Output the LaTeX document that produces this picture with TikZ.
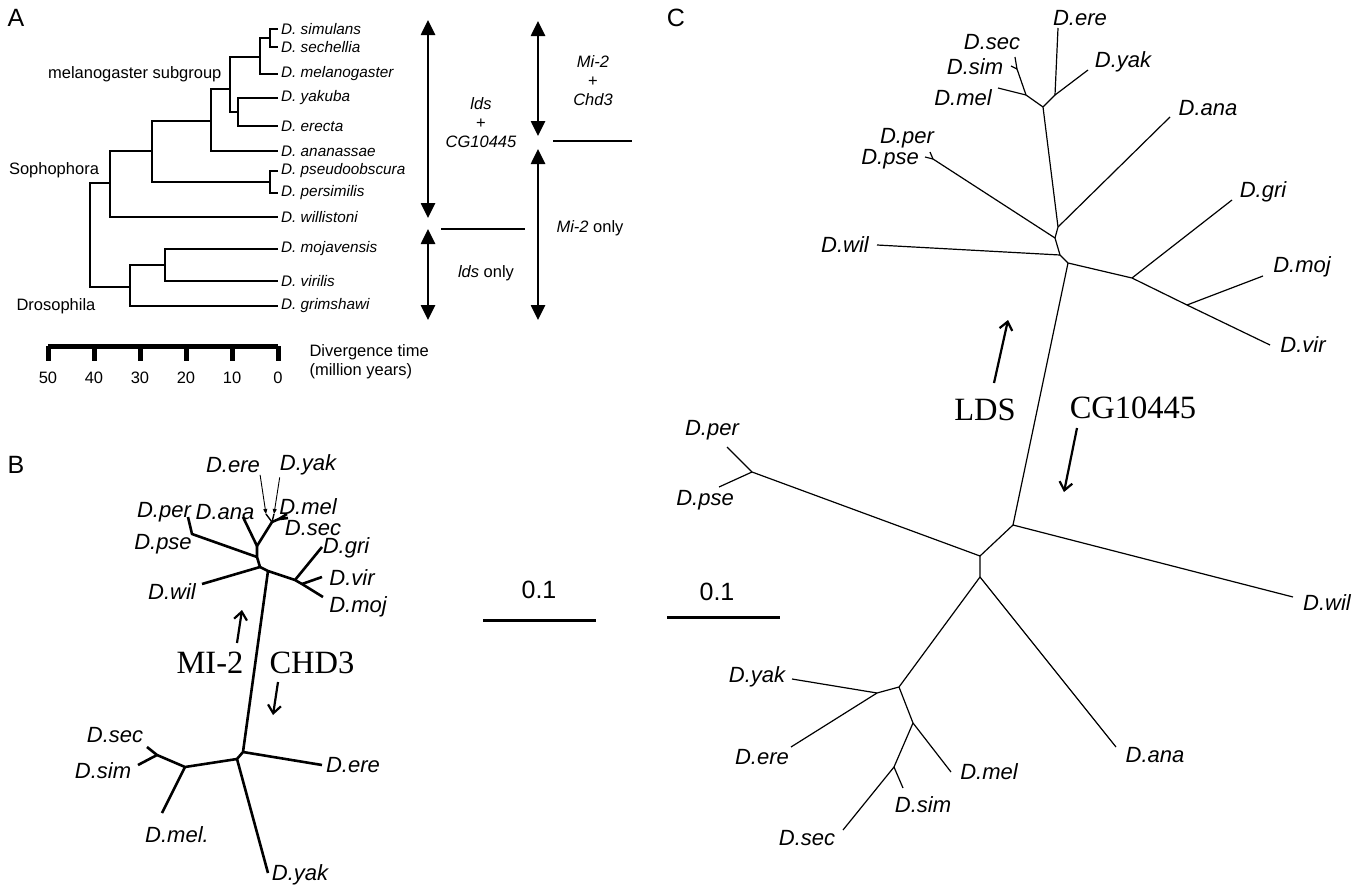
\documentclass[tikz,border=0pt]{standalone}
\usepackage{fontspec}
\setmainfont{Liberation Sans}
\newfontfamily\romanlbl{Liberation Serif}
\usetikzlibrary{arrows.meta}

\begin{document}
\begin{tikzpicture}[x=1pt, y=-1pt,
  panel/.style={font=\fontsize{25}{28}\selectfont},
  taxon/.style={font=\fontsize{15.3}{18}\selectfont\itshape, anchor=west, inner sep=3pt},
  clade/.style={font=\fontsize{16.5}{19}\selectfont},
  gene/.style={font=\fontsize{16.5}{19}\selectfont, align=center},
  sp/.style={font=\fontsize{22}{26}\selectfont\itshape, inner sep=0pt},
  big/.style={font=\fontsize{32.5}{36}\selectfont\romanlbl},
  bar/.style={font=\fontsize{25}{28}\selectfont},
  treeA/.style={line width=2.8pt, line join=miter},
  treeB/.style={line width=2.6pt, line join=round},
  treeC/.style={line width=1.2pt, line join=round},
  span/.style={line width=2.6pt, {Triangle[width=14pt,length=15pt]}-{Triangle[width=14pt,length=15pt]}},
  pointer/.style={line width=2.2pt, -{Straight Barb[length=8pt,width=13pt]}},
  tiny/.style={line width=0.9pt, -{Triangle[width=4pt,length=5pt]}}]

  \useasboundingbox (0,0) rectangle (1355,886);

  % panel letters
  \node[panel] (pA) at (16,18) {A};
  \node[panel] (pB) at (16,465) {B};
  \node[panel] (pC) at (676,18) {C};

  % ---- A: dated tree
  \node[taxon] (t-sim) at (278,29) {D. simulans};
  \node[taxon] (t-sec) at (278,47) {D. sechellia};
  \node[taxon] (t-mel) at (278,74) {D. melanogaster};
  \node[taxon] (t-yak) at (278,98) {D. yakuba};
  \node[taxon] (t-ere) at (278,126) {D. erecta};
  \node[taxon] (t-ana) at (278,151) {D. ananassae};
  \node[taxon] (t-pse) at (278,171) {D. pseudoobscura};
  \node[taxon] (t-per) at (278,193) {D. persimilis};
  \node[taxon] (t-wil) at (278,217) {D. willistoni};
  \node[taxon] (t-moj) at (278,249) {D. mojavensis};
  \node[taxon] (t-vir) at (278,281) {D. virilis};
  \node[taxon] (t-gri) at (278,306) {D. grimshawi};

  \coordinate (a1) at (270,38);
  \coordinate (a2) at (260,57);
  \coordinate (a3) at (238,112);
  \coordinate (a4) at (230,89);
  \coordinate (a5) at (211,121);
  \coordinate (a6) at (270,182);
  \coordinate (a7) at (152,151);
  \coordinate (a8) at (110,183);
  \coordinate (a9) at (165,265);
  \coordinate (a10) at (130,287);
  \coordinate (a11) at (90,235);

  \draw[treeA] (t-sim.west) -| (a1) |- (t-sec.west);
  \draw[treeA] (a1) -| (a2) |- (t-mel.west);
  \draw[treeA] (t-yak.west) -| (a3) |- (t-ere.west);
  \draw[treeA] (a2) -| (a4) |- (a3);
  \draw[treeA] (a4) -| (a5) |- (t-ana.west);
  \draw[treeA] (t-pse.west) -| (a6) |- (t-per.west);
  \draw[treeA] (a5) -| (a7) |- (a6);
  \draw[treeA] (a7) -| (a8) |- (t-wil.west);
  \draw[treeA] (t-moj.west) -| (a9) |- (t-vir.west);
  \draw[treeA] (a9) -| (a10) |- (t-gri.west);
  \draw[treeA] (a8) -| (a11) |- (a10);

  \node[clade, anchor=east] (melsub) at (225,74) {melanogaster subgroup};
  \node[clade] (soph) at (54,170) {Sophophora};
  \node[clade] (dros) at (56,306) {Drosophila};

  % time axis
  \coordinate (ax-l) at (48,346);
  \coordinate (ax-r) at (278,346);
  \draw[line width=5pt] (ax-l) -- (ax-r);
  \foreach \i/\v in {0/50,1/40,2/30,3/20,4/10,5/0} {
    \coordinate (tk\i) at (48+46*\i,346);
    \draw[line width=5pt] (tk\i) -- ++(0,15);
    \node[clade] (tl\i) at (48+46*\i,378) {\v};
  }
  \node[clade, anchor=west, align=left] (axname) at (306,362) {Divergence time\\(million years)};

  % gene ranges
  \coordinate (r1t) at (428,20);
  \coordinate (r1b) at (428,218);
  \coordinate (r2t) at (428,229);
  \coordinate (r2b) at (428,320);
  \coordinate (r3t) at (538,21);
  \coordinate (r3b) at (538,136);
  \coordinate (r4t) at (538,149);
  \coordinate (r4b) at (538,320);
  \draw[span] (r1t) -- (r1b);
  \draw[span] (r2t) -- (r2b);
  \draw[span] (r3t) -- (r3b);
  \draw[span] (r4t) -- (r4b);
  \coordinate (cut1a) at (441,229);
  \coordinate (cut1b) at (525,229);
  \coordinate (cut2a) at (553,141);
  \coordinate (cut2b) at (632,141);
  \draw[line width=2.6pt] (cut1a) -- (cut1b);
  \draw[line width=2.6pt] (cut2a) -- (cut2b);

  \node[gene] (g-lds) at (481,123) {\textit{lds}\\+\\\textit{CG10445}};
  \node[gene] (g-mi) at (593,81) {\textit{Mi-2}\\+\\\textit{Chd3}};
  \node[gene] (g-mionly) at (590,228) {\textit{Mi-2} only};
  \node[gene] (g-ldsonly) at (486,273) {\textit{lds} only};

  % ---- B: Mi-2 / Chd3 tree
  \coordinate (b-per) at (188,517);
  \coordinate (b-pp) at (192,534);
  \coordinate (b-ana) at (243,517);
  \coordinate (b-n1) at (257,546);
  \coordinate (b-mc) at (272,522);
  \coordinate (b-ms) at (279,519);
  \coordinate (b-mel) at (287,514);
  \coordinate (b-sec) at (288,518);
  \coordinate (b-ere) at (266,514);
  \coordinate (b-yak) at (274,514);
  \coordinate (b-n2) at (257,557);
  \coordinate (b-n3) at (260,567);
  \coordinate (b-wil) at (202,584);
  \coordinate (b-st) at (268,571);
  \coordinate (b-gj) at (295,580);
  \coordinate (b-gri) at (322,547);
  \coordinate (b-vj) at (302,584);
  \coordinate (b-vir) at (322,577);
  \coordinate (b-moj) at (323,597);
  \coordinate (b-r1) at (243,752);
  \coordinate (b-r2) at (237,759);
  \coordinate (b-ere2) at (322,765);
  \coordinate (b-yak2) at (268,873);
  \coordinate (b-mg) at (185,767);
  \coordinate (b-mel2) at (162,813);
  \coordinate (b-ss) at (157,755);
  \coordinate (b-sec2) at (147,747);
  \coordinate (b-sim2) at (138,765);

  \draw[treeB] (b-per) -- (b-pp) -- (b-n2);
  \draw[treeB] (b-ana) -- (b-n1) -- (b-mc) -- (b-ms) -- (b-mel);
  \draw[treeB] (b-ms) -- (b-sec);
  \draw[line width=1.4pt] (b-mc) -- (b-ere);
  \draw[line width=1.4pt] (b-mc) -- (b-yak);
  \draw[treeB] (b-n1) -- (b-n2) -- (b-n3) -- (b-wil);
  \draw[treeB] (b-n3) -- (b-st) -- (b-gj) -- (b-vj) -- (b-moj);
  \draw[treeB] (b-gj) -- (b-gri);
  \draw[treeB] (b-vj) -- (b-vir);
  \draw[treeB] (b-st) -- (b-r1) -- (b-r2) -- (b-yak2);
  \draw[treeB] (b-r1) -- (b-ere2);
  \draw[treeB] (b-r2) -- (b-mg) -- (b-ss) -- (b-sec2);
  \draw[treeB] (b-mg) -- (b-mel2);
  \draw[treeB] (b-ss) -- (b-sim2);

  \node[sp] (bl-ere) at (233,465) {D.ere};
  \node[sp] (bl-yak) at (308,465) {D.yak};
  \node[sp] (bl-per) at (164,512) {D.per};
  \node[sp] (bl-ana) at (225,512) {D.ana};
  \node[sp] (bl-mel) at (308,507) {D.mel};
  \node[sp] (bl-sec) at (313,528) {D.sec};
  \node[sp] (bl-pse) at (163,544) {D.pse};
  \node[sp] (bl-gri) at (346,548) {D.gri};
  \node[sp] (bl-vir) at (352,578) {D.vir};
  \node[sp] (bl-moj) at (358,607) {D.moj};
  \node[sp] (bl-wil) at (172,592) {D.wil};
  \node[sp] (bl-sec2) at (115,735) {D.sec};
  \node[sp] (bl-sim2) at (103,771) {D.sim};
  \node[sp] (bl-mel2) at (177,835) {D.mel.};
  \node[sp] (bl-yak2) at (300,875) {D.yak};
  \node[sp] (bl-ere2) at (353,765) {D.ere};

  \draw[tiny] ([yshift=-2pt]bl-ere.south east) -- (b-ere);
  \draw[tiny] ([yshift=-2pt]bl-yak.south west) -- (b-yak);

  \node[big] (mi2) at (210,663) {MI-2};
  \node[big] (chd3) at (312,663) {CHD3};
  \coordinate (mi2-a) at (237,643);
  \coordinate (mi2-b) at (242,610);
  \coordinate (chd3-a) at (278,682);
  \coordinate (chd3-b) at (273,715);
  \draw[pointer] (mi2-a) -- (mi2-b);
  \draw[pointer] (chd3-a) -- (chd3-b);

  % scale bars
  \coordinate (sb1-l) at (483,620);
  \coordinate (sb1-r) at (596,620);
  \coordinate (sb2-l) at (667,617);
  \coordinate (sb2-r) at (780,617);
  \draw[line width=3pt] (sb1-l) -- (sb1-r);
  \draw[line width=3pt] (sb2-l) -- (sb2-r);
  \node[bar] (sb1) at (539,590) {0.1};
  \node[bar] (sb2) at (717,592) {0.1};

  % ---- C: lds / CG10445 tree
  \coordinate (c-ere) at (1058,28);
  \coordinate (c-ey) at (1055,95);
  \coordinate (c-yak) at (1088,70);
  \coordinate (c-n) at (1043,107);
  \coordinate (c-mn) at (1026,95);
  \coordinate (c-mel) at (998,88);
  \coordinate (c-ss) at (1017,69);
  \coordinate (c-sec) at (1015,57);
  \coordinate (c-sim) at (1011,66);
  \coordinate (c-aj) at (1058,227);
  \coordinate (c-ana) at (1170,117);
  \coordinate (c-pj) at (1055,238);
  \coordinate (c-pp) at (933,159);
  \coordinate (c-per) at (930,152);
  \coordinate (c-pse) at (925,157);
  \coordinate (c-wj) at (1060,255);
  \coordinate (c-wil) at (877,245);
  \coordinate (c-s) at (1068,263);
  \coordinate (c-g) at (1132,278);
  \coordinate (c-gri) at (1232,200);
  \coordinate (c-mv) at (1187,305);
  \coordinate (c-moj) at (1263,276);
  \coordinate (c-vir) at (1270,345);
  \coordinate (c-l) at (1013,525);
  \coordinate (c-wil2) at (1293,597);
  \coordinate (c-pn) at (980,556);
  \coordinate (c-pp2) at (752,472);
  \coordinate (c-per2) at (727,447);
  \coordinate (c-pse2) at (719,487);
  \coordinate (c-q) at (980,577);
  \coordinate (c-ana2) at (1116,747);
  \coordinate (c-m) at (899,687);
  \coordinate (c-ye) at (877,693);
  \coordinate (c-yak2) at (792,679);
  \coordinate (c-ere2) at (791,747);
  \coordinate (c-mm) at (913,723);
  \coordinate (c-mel2) at (951,772);
  \coordinate (c-ss2) at (894,767);
  \coordinate (c-sim2) at (903,788);
  \coordinate (c-sec2) at (843,830);

  \draw[treeC] (c-ere) -- (c-ey) -- (c-n);
  \draw[treeC] (c-ey) -- (c-yak);
  \draw[treeC] (c-n) -- (c-mn) -- (c-ss) -- (c-sec);
  \draw[treeC] (c-mn) -- (c-mel);
  \draw[treeC] (c-ss) -- (c-sim);
  \draw[treeC] (c-n) -- (c-aj) -- (c-pj) -- (c-wj) -- (c-s) -- (c-g) -- (c-mv) -- (c-vir);
  \draw[treeC] (c-aj) -- (c-ana);
  \draw[treeC] (c-pj) -- (c-pp) -- (c-per);
  \draw[treeC] (c-pp) -- (c-pse);
  \draw[treeC] (c-wj) -- (c-wil);
  \draw[treeC] (c-g) -- (c-gri);
  \draw[treeC] (c-mv) -- (c-moj);
  \draw[treeC] (c-s) -- (c-l) -- (c-wil2);
  \draw[treeC] (c-l) -- (c-pn) -- (c-pp2) -- (c-per2);
  \draw[treeC] (c-pp2) -- (c-pse2);
  \draw[treeC] (c-pn) -- (c-q) -- (c-ana2);
  \draw[treeC] (c-q) -- (c-m) -- (c-ye) -- (c-yak2);
  \draw[treeC] (c-ye) -- (c-ere2);
  \draw[treeC] (c-m) -- (c-mm) -- (c-mel2);
  \draw[treeC] (c-mm) -- (c-ss2) -- (c-sec2);
  \draw[treeC] (c-ss2) -- (c-sim2);

  \node[sp] (cl-ere) at (1080,18) {D.ere};
  \node[sp] (cl-yak) at (1123,62) {D.yak};
  \node[sp] (cl-ana) at (1208,108) {D.ana};
  \node[sp] (cl-gri) at (1263,192) {D.gri};
  \node[sp] (cl-sec) at (992,42) {D.sec};
  \node[sp] (cl-sim) at (975,67) {D.sim};
  \node[sp] (cl-mel) at (963,98) {D.mel};
  \node[sp] (cl-per) at (907,138) {D.per};
  \node[sp] (cl-pse) at (890,159) {D.pse};
  \node[sp] (cl-wil) at (845,245) {D.wil};
  \node[sp] (cl-moj) at (1302,267) {D.moj};
  \node[sp] (cl-vir) at (1303,345) {D.vir};
  \node[sp] (cl-per2) at (712,430) {D.per};
  \node[sp] (cl-pse2) at (705,500) {D.pse};
  \node[sp] (cl-yak2) at (757,677) {D.yak};
  \node[sp] (cl-ere2) at (762,757) {D.ere};
  \node[sp] (cl-mel2) at (989,772) {D.mel};
  \node[sp] (cl-sim2) at (923,805) {D.sim};
  \node[sp] (cl-sec2) at (807,838) {D.sec};
  \node[sp] (cl-ana2) at (1155,755) {D.ana};
  \node[sp] (cl-wil2) at (1327,603) {D.wil};

  \node[big] (lds) at (985,410) {LDS};
  \node[big] (cg) at (1133,408) {CG10445};
  \coordinate (lds-a) at (994,383);
  \coordinate (lds-b) at (1008,320);
  \coordinate (cg-a) at (1077,428);
  \coordinate (cg-b) at (1064,492);
  \draw[pointer] (lds-a) -- (lds-b);
  \draw[pointer] (cg-a) -- (cg-b);
\end{tikzpicture}
\end{document}
